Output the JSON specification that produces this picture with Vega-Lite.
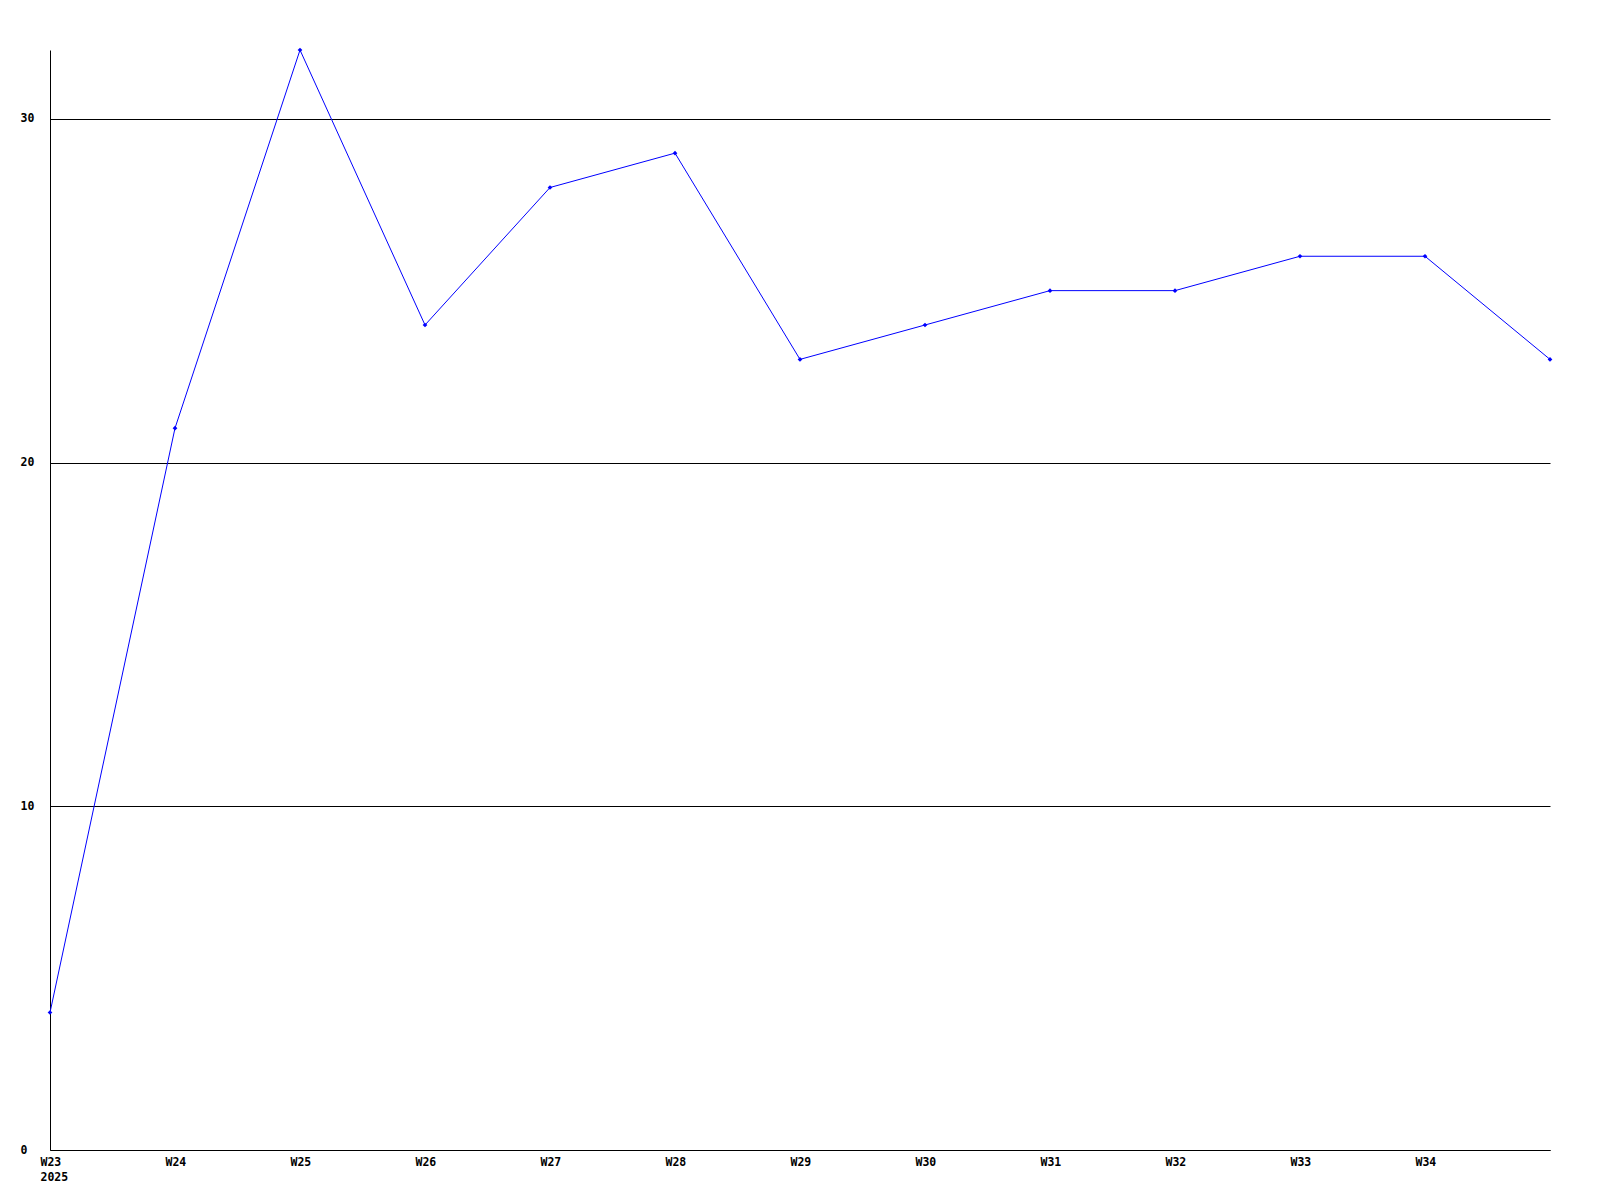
{
  "$schema": "https://vega.github.io/schema/vega-lite/v6.json",
  "autosize": {"type": "none"},
  "width": 1500,
  "height": 1100,
  "padding": {"left": 50, "top": 50, "right": 50, "bottom": 50},
  "background": "white",
  "config": {"view": {"stroke": null}},
  "data": {"values": [
    {"week": 23, "value": 4},
    {"week": 24, "value": 21},
    {"week": 25, "value": 32},
    {"week": 26, "value": 24},
    {"week": 27, "value": 28},
    {"week": 28, "value": 29},
    {"week": 29, "value": 23},
    {"week": 30, "value": 24},
    {"week": 31, "value": 25},
    {"week": 32, "value": 25},
    {"week": 33, "value": 26},
    {"week": 34, "value": 26},
    {"week": 35, "value": 23}
  ]},
  "encoding": {
    "x": {"field": "week", "type": "quantitative",
      "scale": {"domain": [23, 35], "nice": false, "zero": false},
      "axis": {"title": null, "values": [23,24,25,26,27,28,29,30,31,32,33,34],
        "labelExpr": "datum.value == 23 ? ['W23', '2025'] : 'W' + datum.value",
        "grid": false, "ticks": false, "domainColor": "black", "domainWidth": 1,
        "labelFont": "DejaVu Sans Mono", "labelFontWeight": "bold", "labelFontSize": 11.5,
        "labelColor": "black", "labelAlign": "left", "labelOffset": -10, "labelBaseline": "top",
        "labelPadding": 6, "labelLineHeight": 15.5, "labelOverlap": false, "labelFlush": false}},
    "y": {"field": "value", "type": "quantitative",
      "scale": {"domain": [0, 32], "nice": false},
      "axis": {"title": null, "values": [0, 10, 20, 30],
        "grid": true, "gridColor": "black", "gridOpacity": 1, "gridWidth": 1,
        "ticks": false, "domainColor": "black", "domainWidth": 1,
        "labelFont": "DejaVu Sans Mono", "labelFontWeight": "bold", "labelFontSize": 11.5,
        "labelColor": "black", "labelAlign": "left", "labelPadding": 30, "labelBaseline": "middle"}}
  },
  "layer": [
    {"mark": {"type": "line", "color": "#0000ff", "strokeWidth": 1}},
    {"mark": {"type": "point", "shape": "diamond", "filled": true, "color": "#0000ff", "size": 22, "opacity": 1}}
  ]
}
